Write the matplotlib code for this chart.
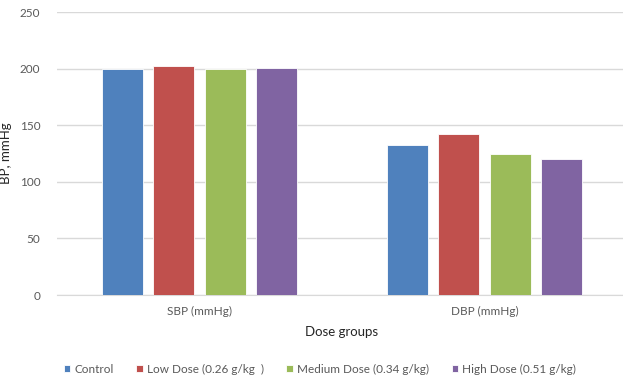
import numpy as np
import matplotlib.pyplot as plt

# Data
groups = ["SBP (mmHg)", "DBP (mmHg)"]
series = ["Control", "Low Dose (0.26 g/kg  )", "Medium Dose (0.34 g/kg)", "High Dose (0.51 g/kg)"]
control = [200, 133]
low_dose = [202, 142]
medium_dose = [200, 125]
high_dose = [200.5, 120]
colors = ["#4F81BD", "#C0504D", "#9BBB59", "#8064A2"]

plt.rcParams["font.family"] = ["Lato", "DejaVu Sans"]
text_color = "#595959"

fig = plt.figure(figsize=(6.23, 3.79), dpi=100)
# plot area runs a bit past the right edge, like the source
ax = fig.add_axes([57 / 623, 0.2216, 570 / 623, 0.7464])

x = np.arange(len(groups))
width = 0.144
pitch = 0.181
values = [control, low_dose, medium_dose, high_dose]
for i, (name, vals, c) in enumerate(zip(series, values, colors)):
    offset = (i - 1.5) * pitch
    ax.bar(x + offset, vals, width, color=c, label=name, edgecolor="white", linewidth=0.6, zorder=3)

ax.set_xlim(-0.5, 1.5)
ax.set_ylim(0, 250)
ax.set_yticks(range(0, 251, 50))
ax.set_xticks(x)
ax.set_xticklabels(groups)
ax.grid(axis="y", color="#d9d9d9", linewidth=1, zorder=0)
for s in ["top", "right", "left"]:
    ax.spines[s].set_visible(False)
ax.spines["bottom"].set_color("#d9d9d9")
ax.tick_params(length=0, colors=text_color, labelsize=8.5)
ax.tick_params(axis="x", pad=8)
ax.tick_params(axis="y", pad=12)

ax.set_ylabel("BP, mmHg", color="#262626", fontsize=9.5)
ax.yaxis.set_label_coords(-0.079, 0.5)
ax.set_xlabel("Dose groups", color="#262626", fontsize=9.5, labelpad=6)

fig.legend(loc="center", bbox_to_anchor=(320 / 623, 0.026), ncol=4, frameon=False,
           fontsize=8.5, handlelength=0.55, handleheight=0.55, handletextpad=0.35,
           columnspacing=1.9, labelcolor=text_color)

fig.savefig("out.png", dpi=100)
